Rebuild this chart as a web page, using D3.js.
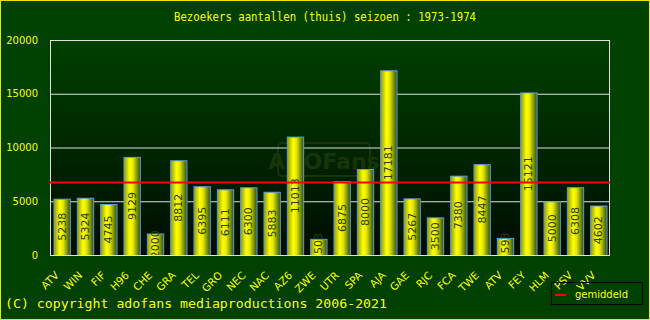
<!DOCTYPE html>
<html>
<head>
<meta charset="utf-8">
<script src="https://cdn.jsdelivr.net/npm/d3@7"></script>
<style>
  body { margin: 0; background: #004000; }
  svg { display: block; }
</style>
</head>
<body>
<svg id="chart"></svg>
<script>
// data
const clubs = ["ATV", "WIN", "FIF", "H96", "CHE", "GRA", "TEL", "GRO", "NEC", "NAC", "AZ6", "ZWE",
  "UTR", "SPA", "AJA", "GAE", "RJC", "FCA", "TWE", "ATV", "FEY", "HLM", "PSV", "VVV"];
const bezoekers = [5238, 5324, 4745, 9129, 2000, 8812, 6395, 6111, 6300, 5883, 11013, 1503,
  6875, 8000, 17181, 5267, 3500, 7380, 8447, 1593, 15121, 5000, 6308, 4602];
const yTicks = [0, 5000, 10000, 15000, 20000];

const w = 650, h = 320;
const pLeft = 50, pRight = 610, pTop = 40, pBottom = 255;

const svg = d3.select("#chart").attr("width", w).attr("height", h);
const defs = svg.append("defs");

// achtergrond van plot
const bg = defs.append("linearGradient").attr("id", "bg").attr("x1", 0).attr("y1", 0).attr("x2", 0).attr("y2", 1);
bg.append("stop").attr("offset", "0%").attr("stop-color", "#004000");
bg.append("stop").attr("offset", "100%").attr("stop-color", "#000c00");

// staaf kleur
const bar = defs.append("linearGradient").attr("id", "bar").attr("x1", 0).attr("y1", 0).attr("x2", 1).attr("y2", 0);
bar.append("stop").attr("offset", "0%").attr("stop-color", "#8a9a20");
bar.append("stop").attr("offset", "35%").attr("stop-color", "#ffff00");
bar.append("stop").attr("offset", "55%").attr("stop-color", "#e8e800");
bar.append("stop").attr("offset", "100%").attr("stop-color", "#2e5000");

defs.append("clipPath").attr("id", "plotclip")
  .append("rect").attr("x", pLeft).attr("y", pTop).attr("width", pRight - pLeft).attr("height", pBottom - pTop);

// rand
svg.append("rect").attr("x", 0.5).attr("y", 0.5).attr("width", w - 1).attr("height", h - 1)
  .attr("fill", "#004000").attr("stroke", "#e8e800");

svg.append("rect").attr("x", pLeft).attr("y", pTop).attr("width", pRight - pLeft).attr("height", pBottom - pTop)
  .attr("fill", "url(#bg)");

const xScale = d3.scaleBand()
  .domain(d3.range(clubs.length))
  .range([pLeft, pRight])
  .paddingInner(0.3)
  .paddingOuter(0.15);

const yScale = d3.scaleLinear()
  .domain([0, 20000])
  .range([pBottom, pTop]);

// watermerk
svg.append("rect").attr("x", 278).attr("y", 143).attr("width", 92).attr("height", 33).attr("rx", 4)
  .attr("fill", "none").attr("stroke", "#173508").attr("stroke-width", 2);
svg.append("text").attr("x", 324).attr("y", 169).attr("text-anchor", "middle")
  .attr("font-family", "DejaVu Sans").attr("font-weight", "bold").attr("font-size", 22)
  .attr("fill", "#173508").text("ADOFans");

// grid
svg.selectAll(".grid").data(yTicks.slice(1)).enter().append("line")
  .attr("x1", pLeft).attr("x2", pRight)
  .attr("y1", d => yScale(d) + 0.5).attr("y2", d => yScale(d) + 0.5)
  .attr("stroke", "#e0e0e0");
svg.append("line").attr("x1", pLeft + 0.5).attr("x2", pLeft + 0.5).attr("y1", pTop).attr("y2", pBottom)
  .attr("stroke", "#e0e0e0");
svg.append("line").attr("x1", pRight - 0.5).attr("x2", pRight - 0.5).attr("y1", pTop).attr("y2", pBottom)
  .attr("stroke", "#e0e0e0");

// y-as
const yAxis = d3.axisLeft(yScale).tickValues(yTicks).tickFormat(d3.format("d")).tickSize(0).tickPadding(12);
svg.append("g").attr("transform", "translate(" + pLeft + ",0)").call(yAxis)
  .call(g => g.select(".domain").remove())
  .selectAll("text")
  .attr("fill", "#ffff00").attr("font-family", "DejaVu Sans").attr("font-size", 10);

// staven
svg.selectAll(".bar").data(bezoekers).enter().append("rect")
  .attr("x", (d, i) => xScale(i) + 0.5)
  .attr("y", d => yScale(d) + 0.5)
  .attr("width", xScale.bandwidth())
  .attr("height", d => pBottom - yScale(d))
  .attr("fill", "url(#bar)")
  .attr("stroke", "#5aa0e0");

// waarden in de staven
svg.append("g").attr("clip-path", "url(#plotclip)")
  .selectAll("text").data(bezoekers).enter().append("text")
  .attr("transform", (d, i) => "translate(" + (xScale(i) + xScale.bandwidth() / 2 + 4) + "," + ((yScale(d) + pBottom) / 2) + ") rotate(-90)")
  .attr("text-anchor", "middle")
  .attr("font-family", "DejaVu Sans").attr("font-size", 11)
  .attr("fill", "#2a4000")
  .text(d => d);

// bodem lijn
svg.append("line").attr("x1", pLeft).attr("x2", pRight).attr("y1", pBottom + 0.5).attr("y2", pBottom + 0.5)
  .attr("stroke", "#e0e0e0");

// gemiddelde
const gem = d3.mean(bezoekers);
svg.append("line").attr("x1", pLeft).attr("x2", pRight)
  .attr("y1", yScale(gem)).attr("y2", yScale(gem))
  .attr("stroke", "#ff0000").attr("stroke-width", 2);

// x labels
svg.selectAll(".xlab").data(clubs).enter().append("text")
  .attr("transform", (d, i) => "translate(" + (xScale(i) + xScale.bandwidth() / 2 - 2) + "," + (pBottom + 21) + ") rotate(-45)")
  .attr("text-anchor", "end")
  .attr("font-family", "DejaVu Sans").attr("font-size", 10.5)
  .attr("fill", "#ffff00")
  .text(d => d);

// titel
svg.append("text").attr("x", 325).attr("y", 21).attr("text-anchor", "middle")
  .attr("font-family", "DejaVu Sans Mono").attr("font-size", 13)
  .attr("textLength", 302).attr("lengthAdjust", "spacingAndGlyphs")
  .attr("fill", "#ffff00").text("Bezoekers aantallen (thuis) seizoen : 1973-1974");

svg.append("text").attr("x", 5).attr("y", 308)
  .attr("font-family", "DejaVu Sans Mono").attr("font-size", 13)
  .attr("textLength", 382).attr("lengthAdjust", "spacingAndGlyphs")
  .attr("fill", "#ffff00").text("(C) copyright adofans mediaproductions 2006-2021");

// legenda
svg.append("rect").attr("x", 551.5).attr("y", 282.5).attr("width", 91).attr("height", 22)
  .attr("fill", "none").attr("stroke", "#000000");
svg.append("line").attr("x1", 555).attr("x2", 566).attr("y1", 295).attr("y2", 295)
  .attr("stroke", "#ff0000").attr("stroke-width", 2);
svg.append("text").attr("x", 575).attr("y", 298)
  .attr("font-family", "DejaVu Sans").attr("font-size", 10)
  .attr("fill", "#ffff00").text("gemiddeld");
</script>
</body>
</html>
